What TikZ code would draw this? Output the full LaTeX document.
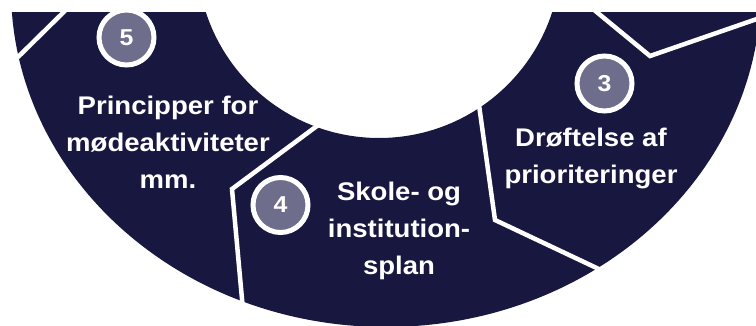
\documentclass[tikz,border=0pt]{standalone}
\usepackage{fontspec}
\newfontfamily\labelfont[FakeStretch=1.08]{Liberation Sans}
\definecolor{ringnavy}{HTML}{18173F}
\definecolor{badgegray}{HTML}{6E6D8B}
\begin{document}
\begin{tikzpicture}[x=1pt,y=-1pt,
  divider/.style={white, line width=4.5pt, line join=miter, line cap=butt},
  badge/.style={circle, draw=white, line width=5pt, fill=badgegray, minimum size=55pt, inner sep=0pt, text=white, font=\labelfont\bfseries\fontsize{23}{23}\selectfont},
  steptext/.style={text=white, align=center, anchor=base, inner sep=0pt, font=\labelfont\bfseries\fontsize{25.5}{37}\selectfont}]
\useasboundingbox (0,0) rectangle (756,326);
\begin{scope}
  \clip (0,13) rectangle (756,326);
  \fill[ringnavy, even odd rule] (386,-11) ellipse [x radius=375, y radius=338] (379,-44) circle [radius=182];
  % divider points
  \coordinate (s1o) at (16,59);
  \coordinate (s1t) at (80,-4);
  \coordinate (s2i) at (321,123);
  \coordinate (s2v) at (232,189);
  \coordinate (s2o) at (243,310);
  \coordinate (s3i) at (479,105);
  \coordinate (s3v) at (495,220);
  \coordinate (s3o) at (603,271);
  \coordinate (s4i) at (576,-5);
  \coordinate (s4v) at (650,56);
  \coordinate (s4o) at (780,11);
  \draw[divider] (s1o) -- (s1t);
  \draw[divider] (s2i) -- (s2v) -- (s2o);
  \draw[divider] (s3i) -- (s3v) -- (s3o);
  \draw[divider] (s4i) -- (s4v) -- (s4o);
  \node[badge] (b5) at (126.5,37.5) {5};
  \node[badge] (b4) at (280.5,205) {4};
  \node[badge] (b3) at (604.5,83.5) {3};
\end{scope}
% anchor=base is the baseline of the last line
\node[steptext] (t5) at (168,189) {Principper for\\mødeaktiviteter\\mm.};
\node[steptext] (t4) at (399,275) {Skole- og\\institution-\\splan};
\node[steptext] (t3) at (591,184) {Drøftelse af\\prioriteringer};
\end{tikzpicture}
\end{document}
